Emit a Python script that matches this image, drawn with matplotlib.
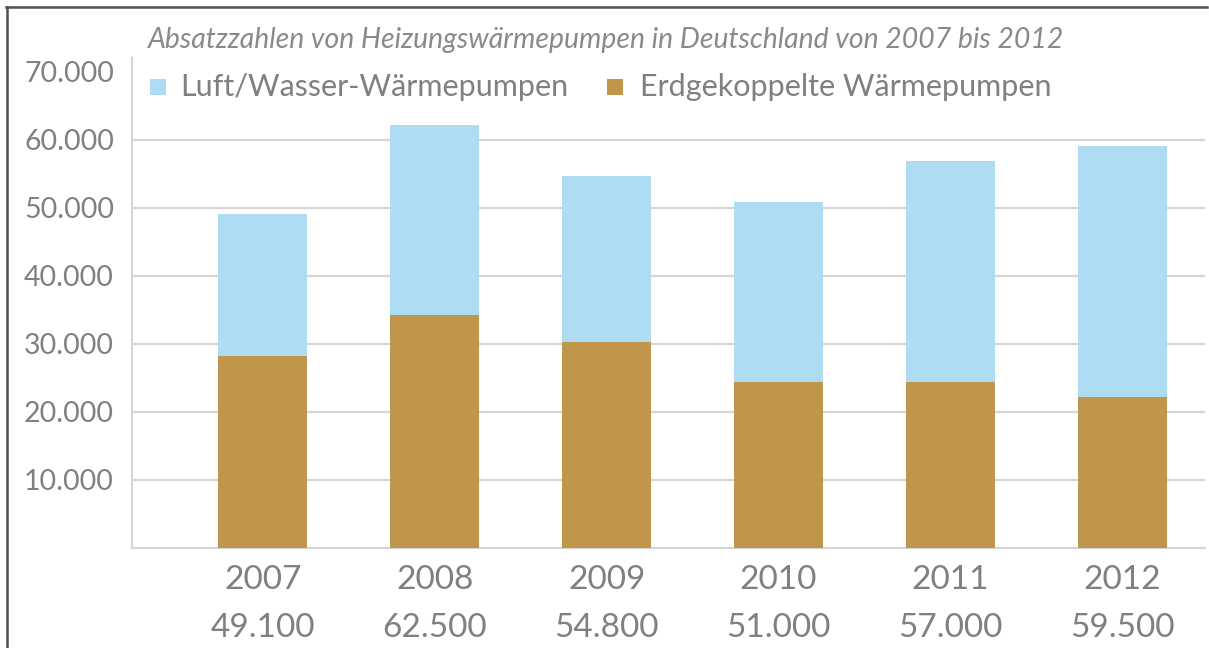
import matplotlib
matplotlib.use("Agg")
import matplotlib.pyplot as plt
from matplotlib.patches import Rectangle
from matplotlib.lines import Line2D
import matplotlib.transforms as mtransforms

# ---- data ----
years = ["2007", "2008", "2009", "2010", "2011", "2012"]
totals_label = [49100, 62500, 54800, 51000, 57000, 59500]
erdgekoppelt = [28200, 34300, 30300, 24400, 24400, 22200]
luft_wasser = [20900, 27900, 24400, 26500, 32400, 36800]
ytick_values = [10000, 20000, 30000, 40000, 50000, 60000, 70000]
series_names = ["Luft/Wasser-Wärmepumpen", "Erdgekoppelte Wärmepumpen"]
title = "Absatzzahlen von Heizungswärmepumpen in Deutschland von 2007 bis 2012"

def de_fmt(v):
    return f"{v:,}".replace(",", ".")

BLUE = "#aedcf3"
BROWN = "#c0964b"
GREY = "#808080"
GRID = "#d6d6d6"
FONT = "Lato"

W, H = 1209, 648
fig = plt.figure(figsize=(W / 100, H / 100), dpi=100)
fig.patch.set_facecolor("white")

def fx(px):
    return px / W

def fy(py):
    return 1 - py / H

ax = fig.add_axes([fx(132), fy(548), fx(1205) - fx(132), fy(58) - fy(548)])
x = list(range(len(years)))
ax.bar(x, erdgekoppelt, width=0.52, color=BROWN, zorder=3)
ax.bar(x, luft_wasser, width=0.52, bottom=erdgekoppelt, color=BLUE, zorder=3)

ax.set_xlim(-0.76, 5.48)
ax.set_ylim(0, 72000)

ax.set_yticks(ytick_values)
ax.set_yticklabels([de_fmt(v) for v in ytick_values], fontfamily=FONT,
                   fontsize=20.5, color=GREY)
ax.yaxis.grid(True, color=GRID, linewidth=1.6, zorder=0)
ax.yaxis.get_gridlines()[-1].set_visible(False)
# shift the top label slightly down like in the reference
lbl = ax.get_yticklabels()[-1]
lbl.set_transform(lbl.get_transform() +
                  mtransforms.ScaledTranslation(0, -8 / 100, fig.dpi_scale_trans))

ax.set_xticks(x)
ax.set_xticklabels([f"{y}\n{de_fmt(t)}" for y, t in zip(years, totals_label)],
                   fontfamily=FONT, fontsize=24, color=GREY, linespacing=1.75)
ax.tick_params(axis="both", length=0)
ax.tick_params(axis="x", pad=12)
ax.tick_params(axis="y", pad=13)

for s in ["top", "right"]:
    ax.spines[s].set_visible(False)
for s in ["left", "bottom"]:
    ax.spines[s].set_color(GRID)
    ax.spines[s].set_linewidth(1.6)
ax.set_axisbelow(True)

# title
fig.text(fx(148), fy(40), title, fontfamily=FONT, style="italic",
         fontsize=20.4, color="#8a8a8a", ha="left", va="center")

# legend
sq = 16
for (px, tx), name, col in zip([(150, 180), (607, 640)], series_names, [BLUE, BROWN]):
    fig.patches.append(Rectangle((fx(px), fy(95)), sq / W, sq / H,
                                 transform=fig.transFigure, facecolor=col,
                                 edgecolor="none"))
    fig.text(fx(tx), fy(87), name, fontfamily=FONT, fontsize=22, color=GREY,
             ha="left", va="center")

# frame
fig.add_artist(Line2D([fx(6), fx(1207)], [fy(7), fy(7)], color="#505050", linewidth=1.8,
                      transform=fig.transFigure))
fig.add_artist(Line2D([fx(7), fx(7)], [fy(7), 0], color="#505050", linewidth=1.8,
                      transform=fig.transFigure))

fig.savefig("out.png", dpi=100)
